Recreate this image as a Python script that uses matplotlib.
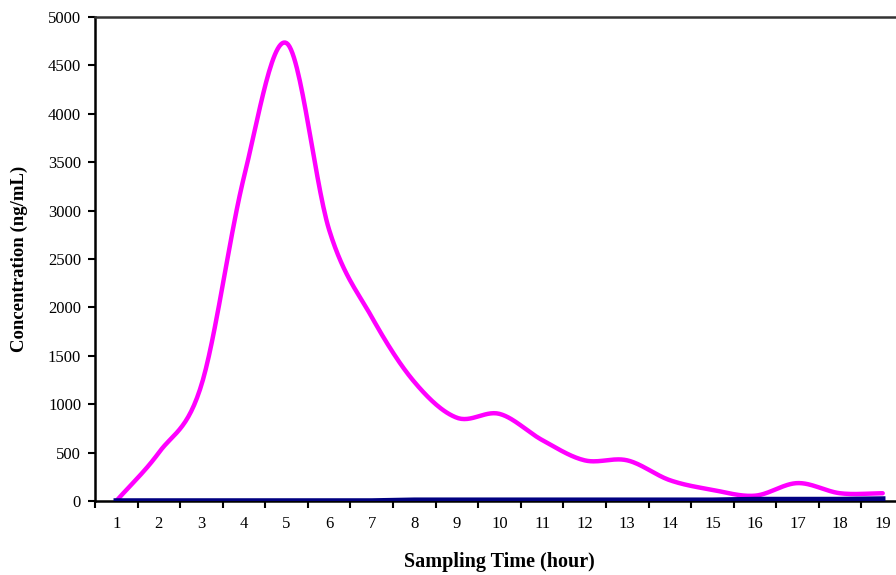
import matplotlib.pyplot as plt
import numpy as np

hours = np.arange(1, 20)
conc = [0, 500, 1200, 3350, 4730, 2800, 1900, 1230, 860, 900,
        630, 420, 420, 215, 115, 55, 185, 80, 80]
conc_low = [0, 0, 0, 0, 0, 0, 0, 8, 8, 8, 8, 8, 8, 8, 8, 15, 15, 15, 20]


def smooth(x, y, n=30):
    # catmull-rom, like excel's smoothed line
    x = np.asarray(x, float)
    y = np.asarray(y, float)
    px = np.concatenate([[2*x[0]-x[1]], x, [2*x[-1]-x[-2]]])
    py = np.concatenate([[2*y[0]-y[1]], y, [2*y[-1]-y[-2]]])
    xs, ys = [], []
    t = np.linspace(0, 1, n)
    for i in range(1, len(px)-2):
        for p, out in ((px, xs), (py, ys)):
            p0, p1, p2, p3 = p[i-1], p[i], p[i+1], p[i+2]
            out.append(0.5*((2*p1) + (-p0+p2)*t + (2*p0-5*p1+4*p2-p3)*t**2
                            + (-p0+3*p1-3*p2+p3)*t**3))
    return np.concatenate(xs), np.concatenate(ys)


fig = plt.figure(figsize=(8.96, 5.75), dpi=100)
ax = fig.add_axes([95/896, 1-501/575, 809/896, 484/575])

sx, sy = smooth(hours, conc)
ax.plot(sx, sy, color='#ff00ff', lw=3.2, solid_capstyle='round', zorder=3)
ax.plot(hours, conc_low, color='#000080', lw=4, zorder=4)

ax.set_xlim(0.5, 19.5)
ax.set_ylim(0, 5000)
ax.set_yticks(np.arange(0, 5001, 500))
ax.set_xticks(hours)
ax.set_xticks(np.arange(0.5, 19.6, 1), minor=True)

serif = ['Liberation Serif', 'DejaVu Serif']
ax.set_xticklabels([str(h) for h in hours], family=serif, fontsize=12)
ax.set_yticklabels([str(v) for v in range(0, 5001, 500)], family=serif, fontsize=12)
ax.tick_params(axis='x', which='major', length=0, pad=11)
ax.tick_params(axis='x', which='minor', length=5, width=1.5, direction='out')
ax.tick_params(axis='y', length=5, width=1.5, direction='out', pad=5)

for s in ['left', 'top', 'bottom']:
    ax.spines[s].set_linewidth(1.8)
ax.spines['top'].set_color('#333333')
ax.spines['right'].set_visible(False)

ax.set_xlabel('Sampling Time (hour)', family=serif, fontsize=14.5, fontweight='bold', labelpad=14)
ax.set_ylabel('Concentration (ng/mL)', family=serif, fontsize=13.5, fontweight='bold', labelpad=14)

fig.savefig('out.png', dpi=100)
